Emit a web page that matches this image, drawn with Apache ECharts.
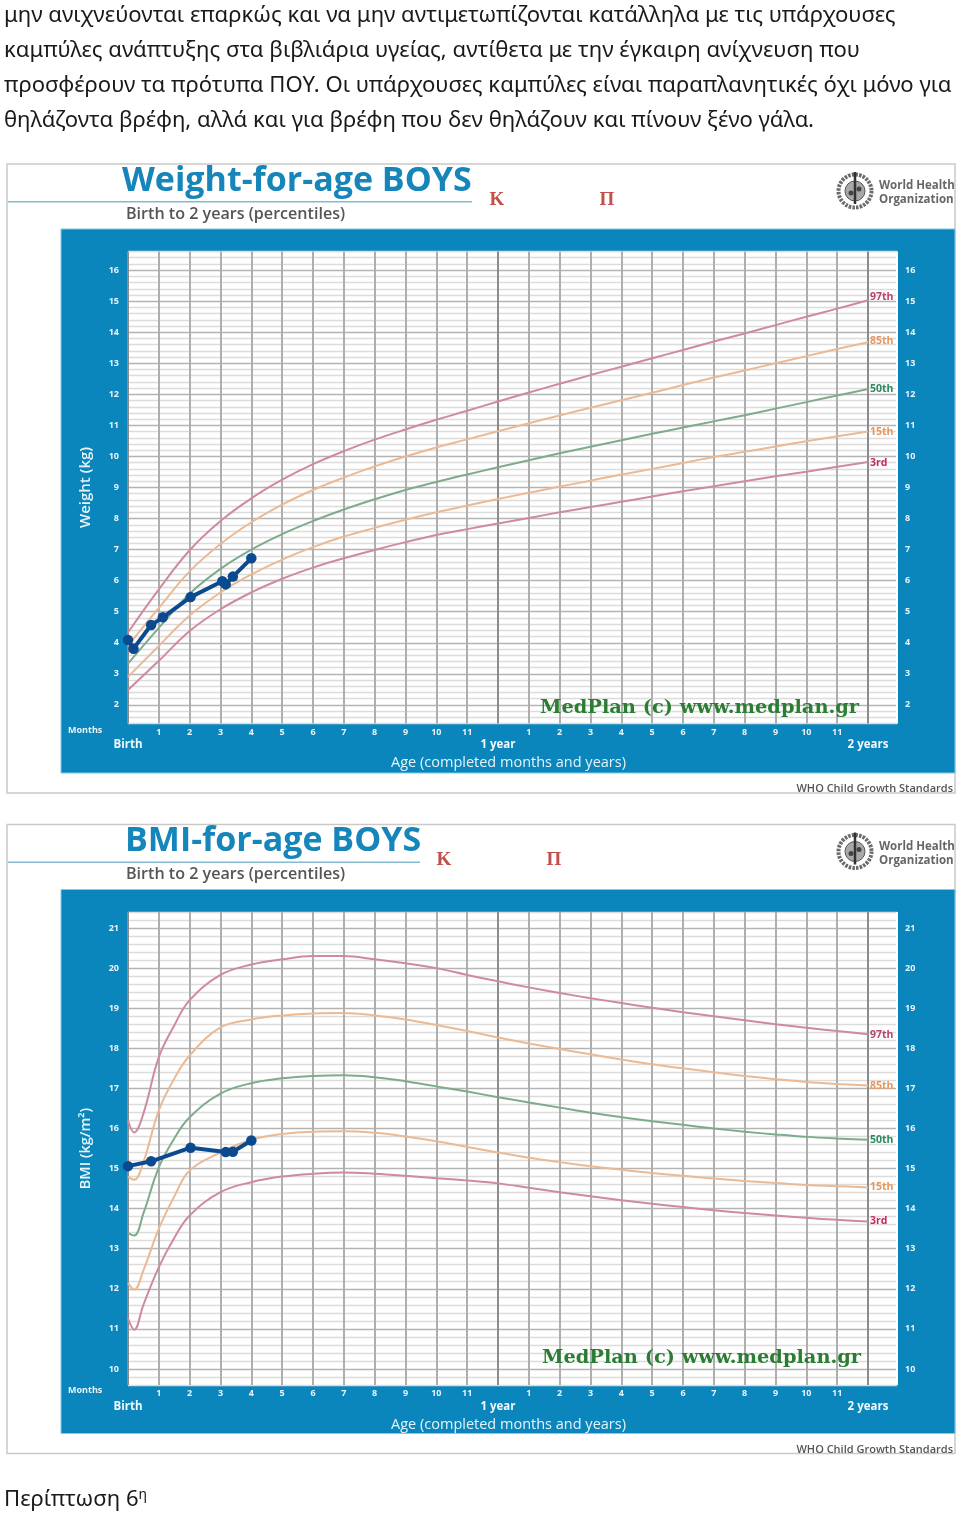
<!DOCTYPE html>
<html>
<head>
<meta charset="utf-8">
<style>html,body{margin:0;padding:0;background:#fff}#c{width:960px;height:1514px}</style>
<script src="https://cdn.jsdelivr.net/npm/echarts@6/dist/echarts.min.js"></script>
</head>
<body>
<div id="c"></div>
<script>
const paragraphLines = [
  'μην ανιχνεύονται επαρκώς και να μην αντιμετωπίζονται κατάλληλα με τις υπάρχουσες',
  'καμπύλες ανάπτυξης στα βιβλιάρια υγείας, αντίθετα με την έγκαιρη ανίχνευση που',
  'προσφέρουν τα πρότυπα ΠΟΥ. Οι υπάρχουσες καμπύλες είναι παραπλανητικές όχι μόνο για',
  'θηλάζοντα βρέφη, αλλά και για βρέφη που δεν θηλάζουν και πίνουν ξένο γάλα.'
];
const percentileNames = ['97th','85th','50th','15th','3rd'];
const monthTicks = ['','1','2','3','4','5','6','7','8','9','10','11','','1','2','3','4','5','6','7','8','9','10','11',''];
const yearTicks = {0:'Birth',12:'1 year',24:'2 years'};

const weightMonths = [0,1,2,3,4,5,6,7,8,9,10,11,12,13,14,15,16,17,18,19,20,21,22,23,24];
const weight97 = [4.33,5.72,6.98,7.92,8.65,9.25,9.75,10.17,10.54,10.87,11.18,11.47,11.77,12.06,12.34,12.62,12.89,13.16,13.43,13.70,13.96,14.23,14.50,14.76,15.03];
const weight85 = [3.9,5.12,6.3,7.18,7.88,8.45,8.92,9.32,9.68,10.0,10.29,10.55,10.81,11.07,11.32,11.57,11.81,12.05,12.3,12.54,12.77,13.0,13.23,13.46,13.68];
const weight50 = [3.33,4.48,5.58,6.38,7.0,7.5,7.92,8.29,8.62,8.92,9.18,9.42,9.65,9.88,10.1,10.31,10.52,10.73,10.93,11.13,11.33,11.54,11.75,11.96,12.17];
const weight15 = [2.9,3.9,4.88,5.62,6.2,6.68,7.08,7.42,7.7,7.96,8.2,8.42,8.63,8.83,9.03,9.22,9.42,9.6,9.79,9.98,10.15,10.32,10.49,10.65,10.8];
const weight3  = [2.48,3.42,4.38,5.08,5.62,6.06,6.42,6.72,6.99,7.24,7.47,7.66,7.84,8.02,8.2,8.37,8.54,8.71,8.88,9.04,9.2,9.36,9.51,9.67,9.82];
const patientWeightAge = [0,0.18,0.75,1.13,2.03,3.06,3.17,3.4,4.0];
const patientWeight = [4.09,3.81,4.57,4.82,5.47,5.98,5.88,6.13,6.72];

const bmiMonths = [0,0.2,0.5,1,1.5,2,3,4,5,6,7,8,9,10,11,12,13,14,15,16,17,18,19,20,21,22,23,24];
const bmi97 = [16.2,15.9,16.37,17.78,18.57,19.2,19.83,20.09,20.22,20.3,20.3,20.22,20.12,20.0,19.83,19.67,19.52,19.38,19.25,19.13,19.01,18.9,18.8,18.7,18.6,18.51,18.43,18.35];
const bmi85 = [14.8,14.72,15.16,16.45,17.24,17.82,18.52,18.72,18.82,18.87,18.88,18.82,18.72,18.58,18.43,18.27,18.12,17.98,17.85,17.72,17.6,17.5,17.4,17.31,17.23,17.16,17.11,17.07];
const bmi50 = [13.39,13.33,13.88,15.03,15.75,16.28,16.87,17.13,17.25,17.31,17.33,17.28,17.18,17.05,16.92,16.78,16.65,16.52,16.39,16.28,16.18,16.09,16.0,15.92,15.85,15.79,15.75,15.72];
const bmi15 = [12.14,11.98,12.46,13.5,14.3,14.95,15.4,15.72,15.86,15.92,15.93,15.89,15.8,15.68,15.54,15.4,15.27,15.16,15.06,14.97,14.89,14.82,14.75,14.69,14.64,14.59,14.56,14.53];
const bmi3  = [11.26,10.98,11.6,12.54,13.27,13.83,14.41,14.66,14.8,14.87,14.9,14.87,14.82,14.76,14.7,14.63,14.52,14.41,14.31,14.21,14.12,14.04,13.96,13.89,13.83,13.77,13.72,13.68];
const patientBmiAge = [0,0.75,2.03,3.17,3.4,4.0];
const patientBmi = [15.06,15.18,15.52,15.41,15.42,15.7];

const BLUE = '#0a86bc';
const lineColors = ['#cf8aa0','#ebb993','#7dac8c','#ebb993','#cf8aa0'];
const labelColors = ['#b8456d','#e8975c','#2a8c58','#e8975c','#c8265f'];
const SANS = '"Open Sans","Noto Sans",sans-serif';

function zip(xs, ys){ return xs.map((x,i)=>[x,ys[i]]); }

function xAxis(gridIndex){
  return {
    type:'value', gridIndex, min:0, max:24.94, interval:1,
    name:'Age (completed months and years)', nameLocation:'middle', nameGap:32,
    nameTextStyle:{color:'#e6f3f9',fontFamily:SANS,fontSize:14.5,fontWeight:500,padding:[0,8,0,0]},
    axisLine:{show:false}, axisTick:{show:false},
    axisLabel:{
      show:true, margin:2, color:'#e8f4fa', fontFamily:SANS, fontSize:9, fontWeight:'bold',
      lineHeight:13, showMinLabel:true, showMaxLabel:false,
      formatter:v=>{
        const r=Math.round(v);
        if(Math.abs(v-r)>1e-6) return '';
        return yearTicks[r]!==undefined ? '\n{y|'+yearTicks[r]+'}' : monthTicks[r];
      },
      rich:{y:{color:'#f2f9fc',fontFamily:SANS,fontSize:11.5,fontWeight:'bold',lineHeight:13}}
    },
    splitLine:{show:true,lineStyle:{width:2,color:monthTicks.map((t,i)=>(i%12===0)?'#8c8c8c':'#aeaeae').concat(['#ffffff'])}}
  };
}
function yAxes(gridIndex,min,max,name,major,nameSize){
  const fmt=v=>Math.abs(v-Math.round(v))<1e-6?String(Math.round(v)):'';
  const colors=[0,1,2,3,4].map(i=>i===major?'#b4b4b4':'#dcdcdc');
  const lab={show:true,color:'#e8f4fa',fontFamily:SANS,fontSize:9,fontWeight:'bold',formatter:fmt,showMinLabel:false,showMaxLabel:false};
  return [
    {type:'value',gridIndex,position:'left',min,max,interval:0.2,
     name,nameLocation:'middle',nameGap:35,nameRotate:90,
     nameTextStyle:{color:'#e6f3f9',fontFamily:SANS,fontSize:nameSize,fontWeight:600},
     axisLine:{show:false},axisTick:{show:false},axisLabel:Object.assign({margin:9},lab),
     splitLine:{show:true,lineStyle:{width:1.3,color:colors}}},
    {type:'value',gridIndex,position:'right',min,max,interval:0.2,
     axisLine:{show:false},axisTick:{show:false},axisLabel:Object.assign({margin:8},lab),
     splitLine:{show:false}}
  ];
}
function curve(i,gridIndex,yIndex,xs,ys,labelOffsets){
  return {
    type:'line',name:percentileNames[i],xAxisIndex:gridIndex,yAxisIndex:yIndex,
    data:zip(xs,ys),smooth:0.4,showSymbol:false,symbol:'none',silent:true,
    lineStyle:{color:lineColors[i],width:2},z:3,
    endLabel:{show:true,formatter:percentileNames[i],distance:2,offset:[0,labelOffsets[i]],
      color:labelColors[i],fontFamily:SANS,fontSize:10.5,fontWeight:'bold'}
  };
}
function patient(gridIndex,yIndex,xs,ys){
  return {type:'line',name:'Patient',xAxisIndex:gridIndex,yAxisIndex:yIndex,data:zip(xs,ys),
    symbol:'circle',symbolSize:10.5,silent:true,z:5,
    lineStyle:{color:'#0c4a90',width:4},itemStyle:{color:'#0c4a90'}};
}

function txt(x,y,text,o){
  return {type:'text',x,y,z:20,silent:true,style:Object.assign({text,fill:'#333',font:'12px '+SANS,verticalAlign:'middle'},o||{})};
}
function rect(x,y,w,h,style,z){
  return {type:'rect',shape:{x,y,width:w,height:h},style,z:z===undefined?-10:z,silent:true};
}
function logo(cx,cy){
  const r=[];
  r.push({type:'circle',shape:{cx,cy,r:16.5},style:{fill:'#ffffff',stroke:'#6a6a6a',lineWidth:4,lineDash:[2.5,1.2]},z:20,silent:true});
  r.push({type:'circle',shape:{cx,cy,r:10},style:{fill:'#a8a8a8',stroke:'#555',lineWidth:1},z:20,silent:true});
  r.push({type:'line',shape:{x1:cx,y1:cy-19,x2:cx,y2:cy+13},style:{stroke:'#333',lineWidth:2.5},z:21,silent:true});
  r.push({type:'circle',shape:{cx:cx-4,cy:cy+2,r:2.5},style:{fill:'#444'},z:21,silent:true});
  r.push({type:'circle',shape:{cx:cx+4,cy:cy-2,r:2.5},style:{fill:'#444'},z:21,silent:true});
  return r;
}
function decoration(dy,title,titleRight,kX,piX,markX,markY){
  const els=[];
  els.push(rect(7,164+dy,948,629,{fill:'#fff',stroke:'#c9c9c9',lineWidth:1.5},-20));
  els.push(rect(61,229+dy,894,544,{fill:BLUE,stroke:'#7fcbe8',lineWidth:1}));
  els.push(rect(8,201+dy,titleRight-8,1.5,{fill:'#86b9d0'},-5));
  els.push(txt(title.x,181+dy,title.text,{fill:'#1585ba',font:'bold '+title.size+'px '+SANS}));
  els.push(txt(126,214+dy,'Birth to 2 years (percentiles)',{fill:'#555',font:'600 16.1px '+SANS}));
  els.push(txt(kX,200+dy,'Κ',{fill:'#c2504a',font:'bold 19px "Liberation Serif",serif',align:'center'}));
  els.push(txt(piX,200+dy,'Π',{fill:'#c2504a',font:'bold 19px "Liberation Serif",serif',align:'center'}));
  els.push(...logo(855,191+dy));
  els.push(txt(879,186+dy,'World Health',{fill:'#666',font:'bold 11.5px '+SANS}));
  els.push(txt(879,200+dy,'Organization',{fill:'#666',font:'bold 11.5px '+SANS}));
  els.push(txt(68,730+dy,'Months',{fill:'#e8f4fa',font:'bold 9px '+SANS}));
  els.push(txt(markX,markY,'MedPlan (c) www.medplan.gr',{fill:'#2c7d34',font:'bold 19.4px "DejaVu Serif",serif'}));
  els.push(txt(953,789+dy,'WHO Child Growth Standards',{fill:'#555',font:'600 11px '+SANS,align:'right'}));
  return els;
}

const graphicEls = [];
paragraphLines.forEach((t,i)=>graphicEls.push(txt(4,16+i*35,t,{fill:'#1a1a1a',font:'22.1px "Noto Sans",sans-serif'})));
graphicEls.push(...decoration(0,{x:122,text:'Weight-for-age BOYS',size:34},472,497,607,540,708));
graphicEls.push(...decoration(660.5,{x:125,text:'BMI-for-age BOYS',size:34},420,444,554,542,1358));
graphicEls.push({type:'text',x:4,y:1500,z:20,silent:true,style:{
  text:'Περίπτωση 6{s|η}',fill:'#1a1a1a',font:'22.1px "Noto Sans",sans-serif',verticalAlign:'middle',
  rich:{s:{fontSize:14,fontFamily:'"Noto Sans",sans-serif',verticalAlign:'top',padding:[0,0,10,0],fill:'#1a1a1a'}}}});

const weightSets=[weight97,weight85,weight50,weight15,weight3];
const bmiSets=[bmi97,bmi85,bmi50,bmi15,bmi3];
const weightLabelOffsets=[-3,-1,0,0,1];
const bmiLabelOffsets=[1,0,0,0,0];
const chart=echarts.init(document.getElementById('c'));
chart.setOption({
  animation:false,backgroundColor:'#ffffff',
  graphic:{elements:graphicEls},
  grid:[
    {left:128,right:63,top:251.5,height:472,show:true,backgroundColor:'#ffffff',borderWidth:0},
    {left:128,right:63,top:912,height:473,show:true,backgroundColor:'#ffffff',borderWidth:0}
  ],
  xAxis:[xAxis(0),xAxis(1)],
  yAxis:[...yAxes(0,1.4,16.6,'Weight (kg)',3,15),...yAxes(1,9.6,21.4,'BMI (kg/m²)',2,14.5)],
  series:[
    ...weightSets.map((d,i)=>curve(i,0,0,weightMonths,d,weightLabelOffsets)),
    patient(0,0,patientWeightAge,patientWeight),
    ...bmiSets.map((d,i)=>curve(i,1,2,bmiMonths,d,bmiLabelOffsets)),
    patient(1,2,patientBmiAge,patientBmi)
  ]
});
</script>
</body>
</html>
